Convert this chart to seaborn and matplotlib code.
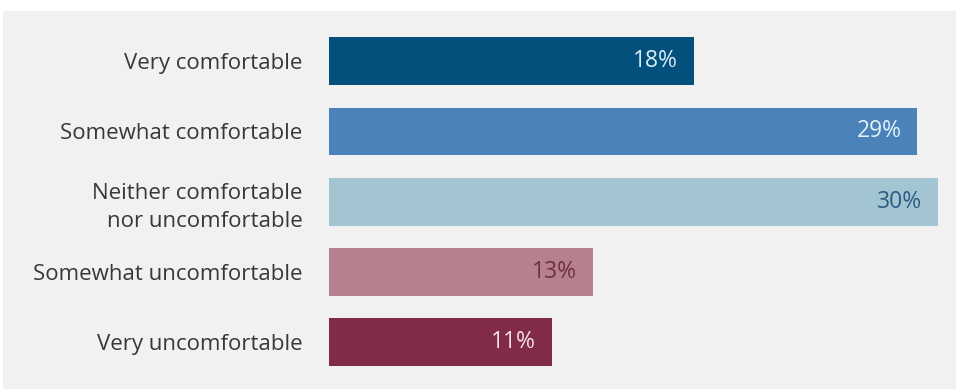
import matplotlib
matplotlib.use("Agg")
import matplotlib.pyplot as plt
from matplotlib.patches import Rectangle
import seaborn as sns
import pandas as pd

# Survey responses: comfort level and share of respondents (%)
categories = [
    "Very comfortable",
    "Somewhat comfortable",
    "Neither comfortable\nnor uncomfortable",
    "Somewhat uncomfortable",
    "Very uncomfortable",
]
shares = [18, 29, 30, 13, 11]
value_labels = ["18%", "29%", "30%", "13%", "11%"]

bar_colors = ["#04507c", "#4a82b9", "#a3c5d2", "#b5818f", "#822a49"]
label_colors = ["#d6ecf6", "#e2f0fa", "#2a5d86", "#72303f", "#f3dfe6"]

df = pd.DataFrame({"category": categories, "share": shares})

sns.set_theme(style="white")
plt.rcParams["font.family"] = ["Open Sans", "DejaVu Sans"]

fig = plt.figure(figsize=(9.56, 3.89), dpi=100)
fig.patch.set_facecolor("white")
# light grey panel behind the chart
fig.patches.append(Rectangle((3 / 956, 0), 1 - 3 / 956, 1 - 11 / 389,
                             transform=fig.transFigure, facecolor="#f1f1f1",
                             edgecolor="none", zorder=-10))

ax = fig.add_axes([329 / 956, (389 - 377.5) / 389, (956 - 329) / 956, (377.5 - 26) / 389])
ax.set_facecolor("none")
ax.set_zorder(5)

sns.barplot(data=df, x="share", y="category", hue="category", palette=bar_colors,
            legend=False, width=0.68, saturation=1, linewidth=0, ax=ax, orient="h")

ax.set_xlim(0, 30.9)
ax.set_ylim(4.5, -0.5)

for i, txt in enumerate(value_labels):
    ax.annotate(txt, xy=(shares[i], i), xytext=(-11.5, 0), textcoords="offset points",
                ha="right", va="center", fontsize=16.5, color=label_colors[i])

ax.set_xlabel("")
ax.set_ylabel("")
ax.set_xticks([])
ax.tick_params(axis="y", length=0, pad=19, labelsize=16, labelcolor="#383838")
for lbl in ax.get_yticklabels():
    lbl.set_horizontalalignment("right")
    lbl.set_multialignment("right")
    lbl.set_linespacing(1.45)
for s in ax.spines.values():
    s.set_visible(False)

fig.savefig("out.png", dpi=100)
